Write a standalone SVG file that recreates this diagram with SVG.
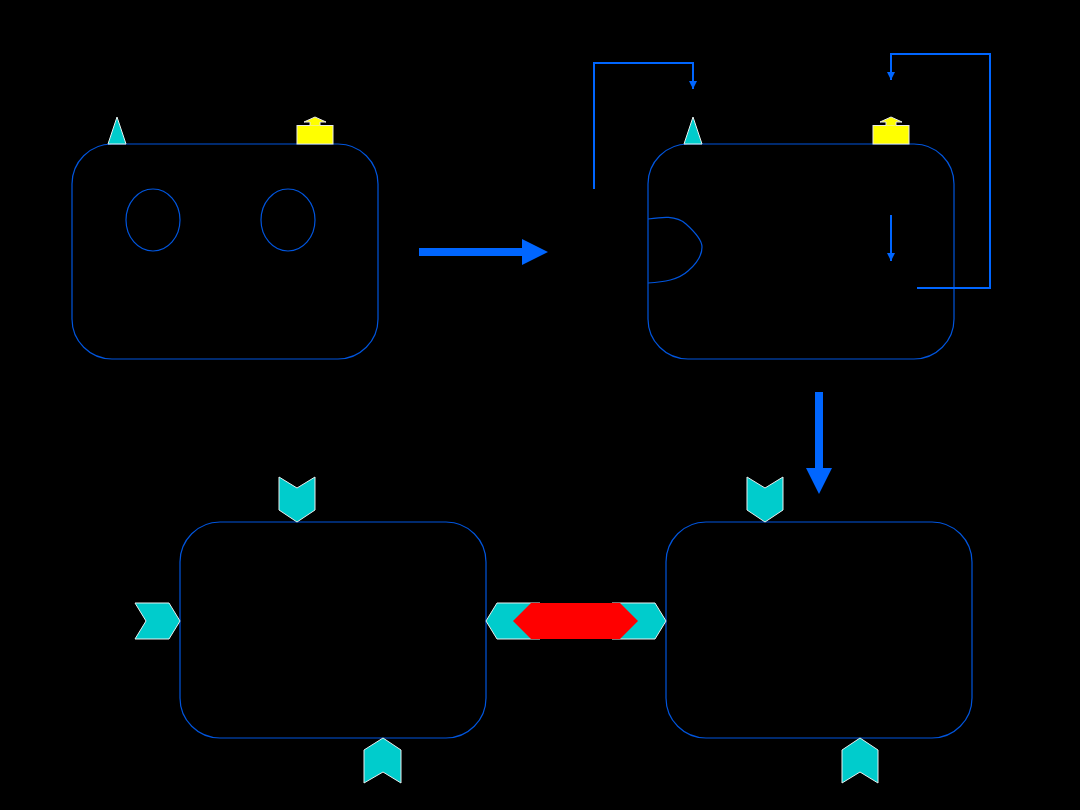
<svg xmlns="http://www.w3.org/2000/svg" width="1080" height="810" viewBox="0 0 1080 810">
<defs>
<style>
.box{fill:none;stroke:#0055dd;stroke-width:1.2}
.cy{fill:#00cccc;stroke:#e8f0f0;stroke-width:1}
.ye{fill:#ffff00;stroke:#e8e8e8;stroke-width:1}
.ln{fill:none;stroke:#0066ff;stroke-width:2}
.big{fill:#0066ff}
</style>
<marker id="ah" viewBox="0 0 10 10" refX="10" refY="5" markerWidth="4" markerHeight="4" orient="auto" markerUnits="strokeWidth">
<path d="M0,0 L10,5 L0,10 Z" fill="#0066ff"/>
</marker>
</defs>
<rect width="1080" height="810" fill="#000"/>

<g id="cell-1">
<rect class="box" x="72" y="144" width="306" height="215" rx="40" ry="40"/>
<ellipse class="box" cx="153" cy="220" rx="27" ry="31"/>
<ellipse class="box" cx="288" cy="220" rx="27" ry="31"/>
<polygon class="cy" points="108,144 117,117 126,144"/>
<g class="ye"><rect x="297" y="125.5" width="36" height="18.5"/><polygon points="310,125.5 310,122 304,122 315,117 326,122 320,122 320,125.5" stroke="none" fill="#ffff00"/><polyline points="310,125 310,122 304,122 315,117 326,122 320,122 320,125" fill="none"/></g>
</g>

<g id="cell-2">
<rect class="box" x="648" y="144" width="306" height="215" rx="40" ry="40"/>
<path class="box" d="M648,219 C662,217 676,215 686,224 C696,233 702,241 702,247 C702,256 695,265 688,271 C678,280 664,282 648,283"/>
<polygon class="cy" points="684,144 693,117 702,144"/>
<g class="ye"><rect x="873" y="125.5" width="36" height="18.5"/><polygon points="886,125.5 886,122 880,122 891,117 902,122 896,122 896,125.5" stroke="none" fill="#ffff00"/><polyline points="886,125 886,122 880,122 891,117 902,122 896,122 896,125" fill="none"/></g>
</g>

<g id="cell-3">
<rect class="box" x="180" y="522" width="306" height="216" rx="40" ry="40"/>
<polygon class="cy" points="279,477 297,488 315,477 315,510 297,522 279,510"/>
<polygon class="cy" points="135,603 169,603 180,621 169,639 135,639 146,621"/>
<polygon class="cy" points="364,750 383,738 401,750 401,783 383,772 364,783"/>
</g>

<g id="cell-4">
<rect class="box" x="666" y="522" width="306" height="216" rx="40" ry="40"/>
<polygon class="cy" points="747,477 765,488 783,477 783,510 765,522 747,510"/>
<polygon class="cy" points="842,750 860,738 878,750 878,783 860,772 842,783"/>
</g>

<g id="junction">
<polygon class="cy" points="486,621 497,603 540,603 540,639 497,639"/>
<polygon class="cy" points="666,621 655,603 612,603 612,639 655,639"/>
<polygon fill="#ff0000" points="513,621 531,603 620,603 638,621 620,639 531,639"/>
</g>

<g id="connectors">
<polygon class="big" points="419,248 522,248 522,239 548,252 522,265 522,256 419,256"/>
<polygon class="big" points="815,392 823,392 823,468 832,468 819,494 806,468 815,468"/>
<polyline class="ln" points="594,189 594,63 693,63 693,89" marker-end="url(#ah)"/>
<polyline class="ln" points="917,288 990,288 990,54 891,54 891,80" marker-end="url(#ah)"/>
<line class="ln" x1="891" y1="215" x2="891" y2="261" marker-end="url(#ah)"/>
</g>
</svg>
